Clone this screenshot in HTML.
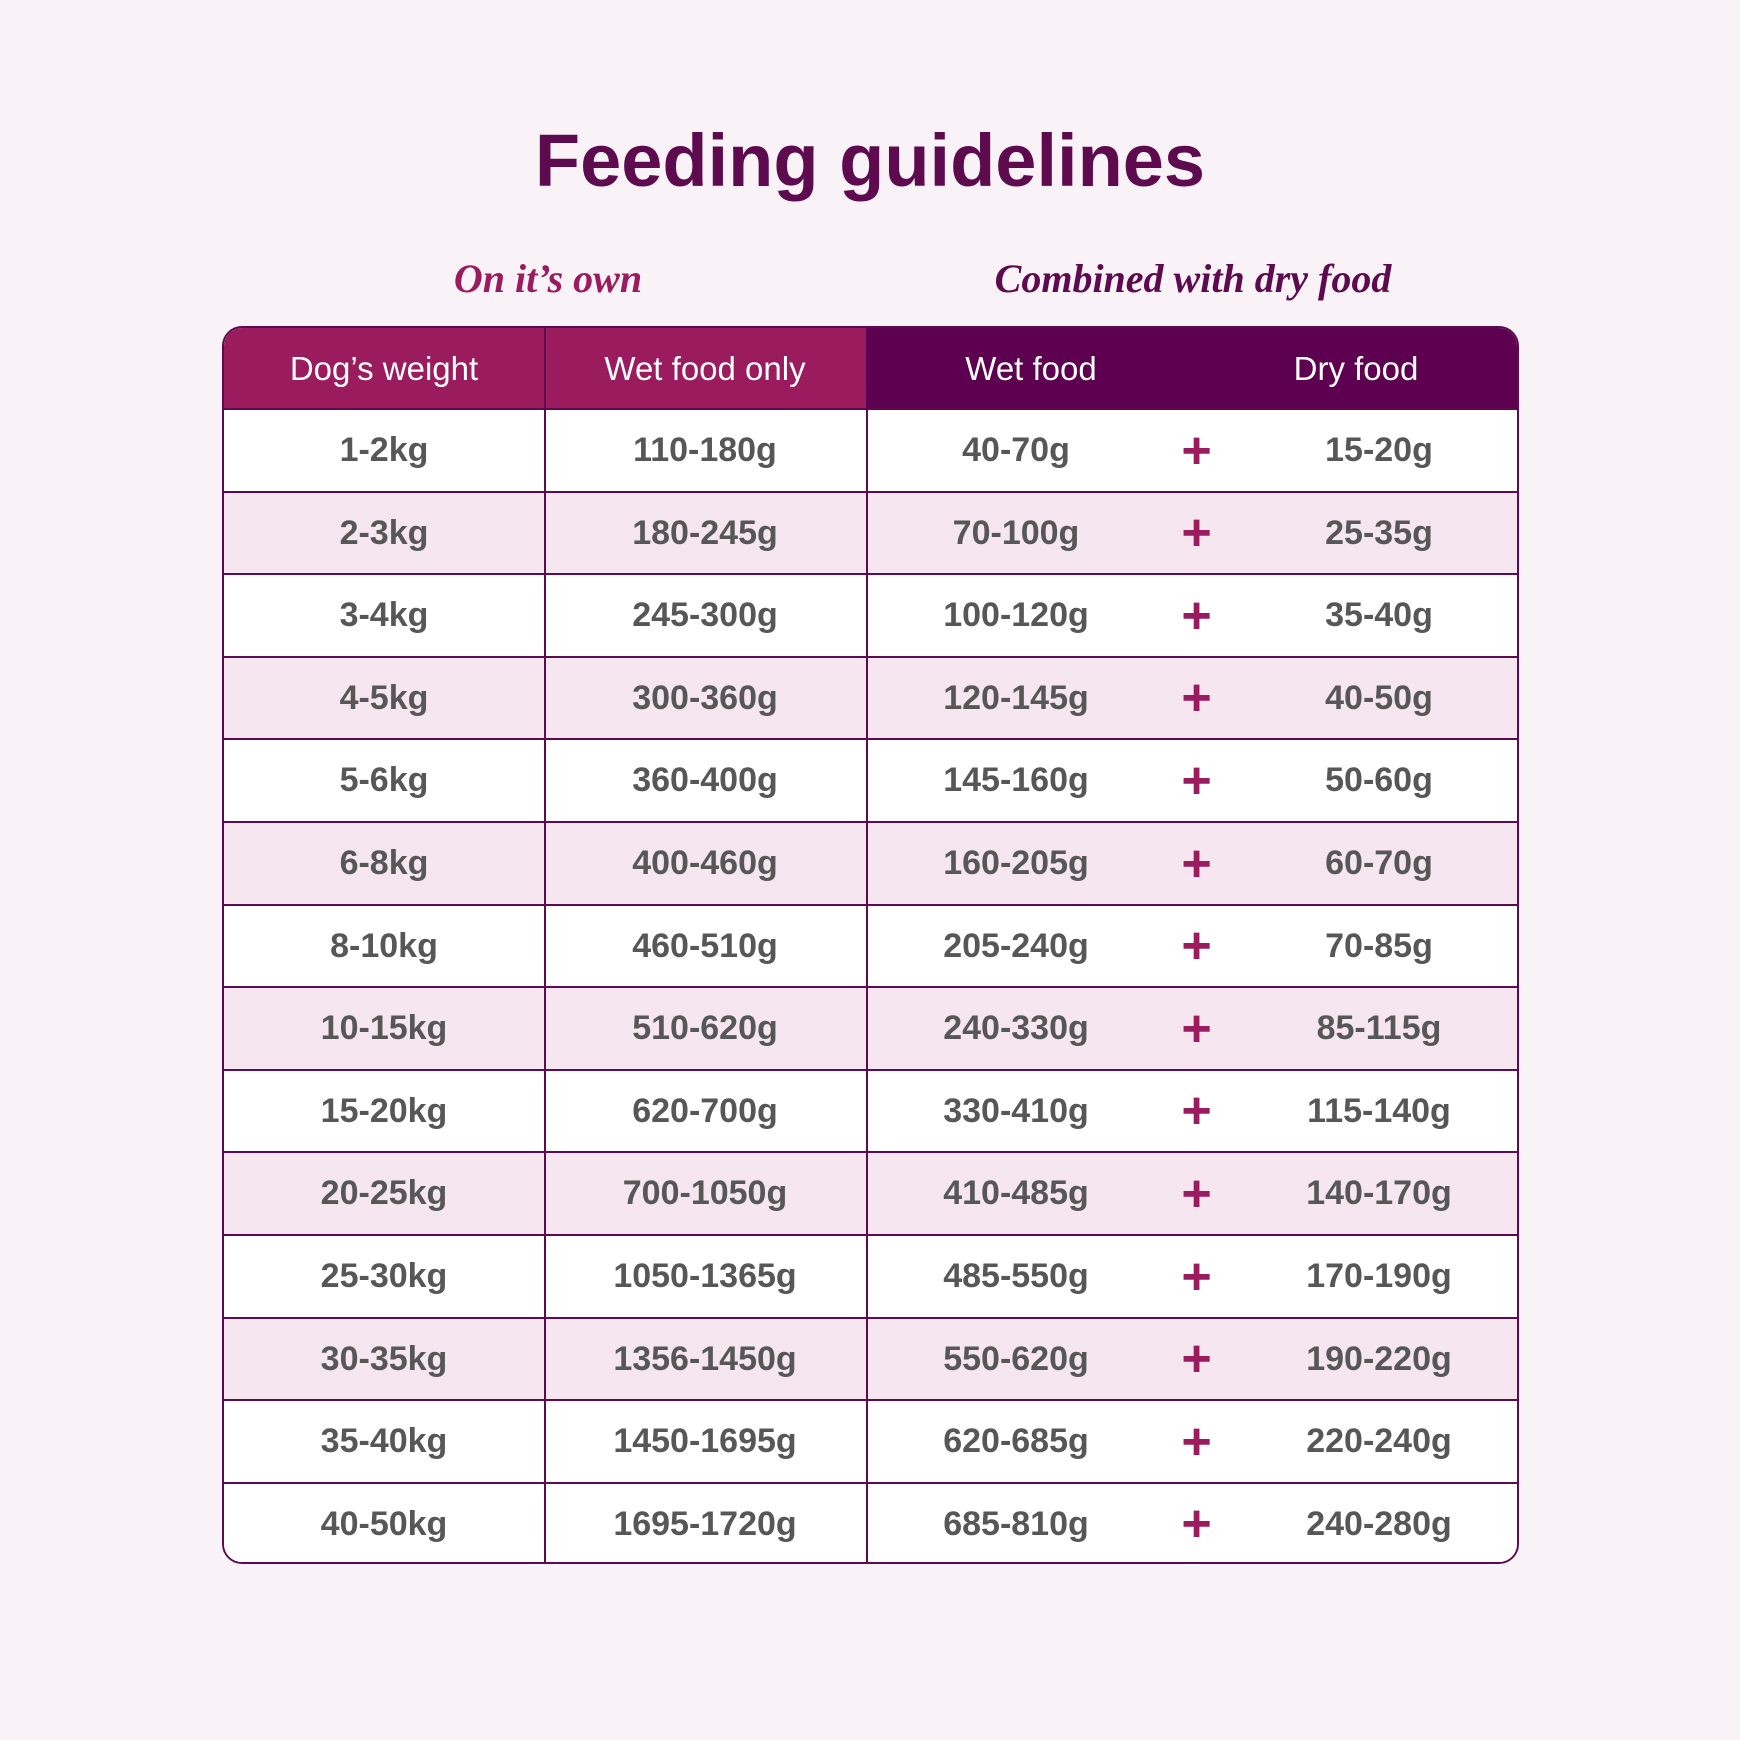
<!DOCTYPE html>
<html><head><meta charset="utf-8"><style>
body{margin:0;width:1740px;height:1740px;background:#f9f2f7;font-family:"Liberation Sans",sans-serif;position:relative;overflow:hidden}
.title{position:absolute;top:118px;left:0;width:1740px;text-align:center;font-size:74px;font-weight:bold;color:#5e0a4f}
.sub{position:absolute;top:255px;font-family:"Liberation Serif",serif;font-style:italic;font-weight:bold;font-size:40px;transform:translateX(-50%);white-space:nowrap}
.tbl{position:absolute;left:222px;top:326px;width:1297px;height:1238px;border:2px solid #5e0a4f;border-radius:20px;overflow:hidden;background:#fff;box-sizing:border-box}
.hdr{position:absolute;top:0;height:82px;color:#fff;font-size:33px;display:flex;align-items:center;justify-content:center}
.row{position:absolute;left:0;width:100%;height:83px;border-top:2px solid #5e0a4f;box-sizing:border-box}
.c{position:absolute;top:0;height:81px;display:flex;align-items:center;justify-content:center;font-size:34px;font-weight:bold;color:#575757}
.vl{position:absolute;top:82px;bottom:0;width:2px;background:#5e0a4f}
.plus{color:#9b1b5f;font-size:52px;font-weight:bold}
</style></head><body>
<div class="title">Feeding guidelines</div>
<div class="sub" style="left:548px;color:#9b1b5f">On it’s own</div>
<div class="sub" style="left:1193px;color:#5e0a4f">Combined with dry food</div>
<div class="tbl" id="tbl">
<div class="hdr" style="left:0;width:642px;background:#9b1b5f"></div>
<div class="hdr" style="left:642px;width:655px;background:#5e0050"></div>
<div class="hdr" style="left:0;width:320px">Dog’s weight</div>
<div class="hdr" style="left:320px;width:322px">Wet food only</div>
<div class="hdr" style="left:642px;width:330px">Wet food</div>
<div class="hdr" style="left:1017px;width:230px">Dry food</div>
<div style="position:absolute;left:320px;top:0;width:2px;height:82px;background:#5e0a4f"></div>
</div>
<script>
const weights=["1-2kg","2-3kg","3-4kg","4-5kg","5-6kg","6-8kg","8-10kg","10-15kg","15-20kg","20-25kg","25-30kg","30-35kg","35-40kg","40-50kg"];
const wetOnly=["110-180g","180-245g","245-300g","300-360g","360-400g","400-460g","460-510g","510-620g","620-700g","700-1050g","1050-1365g","1356-1450g","1450-1695g","1695-1720g"];
const wetCombined=["40-70g","70-100g","100-120g","120-145g","145-160g","160-205g","205-240g","240-330g","330-410g","410-485g","485-550g","550-620g","620-685g","685-810g"];
const dryCombined=["15-20g","25-35g","35-40g","40-50g","50-60g","60-70g","70-85g","85-115g","115-140g","140-170g","170-190g","190-220g","220-240g","240-280g"];
const t=document.getElementById('tbl');
const rowH=82.6;
weights.forEach((w,i)=>{
 const r=document.createElement('div');r.className='row';
 
 
 r.style.top=(80+i*rowH)+'px';r.style.background=(i%2&&i<weights.length-1)?'#f5e6ef':'#fff';
 const cells=[[0,320,w],[320,322,wetOnly[i]],[642,300,wetCombined[i]],[920,105,'+'],[1040,230,dryCombined[i]]];
 cells.forEach((c,j)=>{
  const d=document.createElement('div');d.className='c'+(j==3?' plus':'');
  
  
  d.style.left=c[0]+'px';d.style.width=c[1]+'px';d.textContent=c[2];r.appendChild(d);
 });
 t.appendChild(r);
});
[320,642].forEach(x=>{const v=document.createElement('div');v.className='vl';v.style.left=x+'px';


t.appendChild(v);});
</script>
</body></html>
